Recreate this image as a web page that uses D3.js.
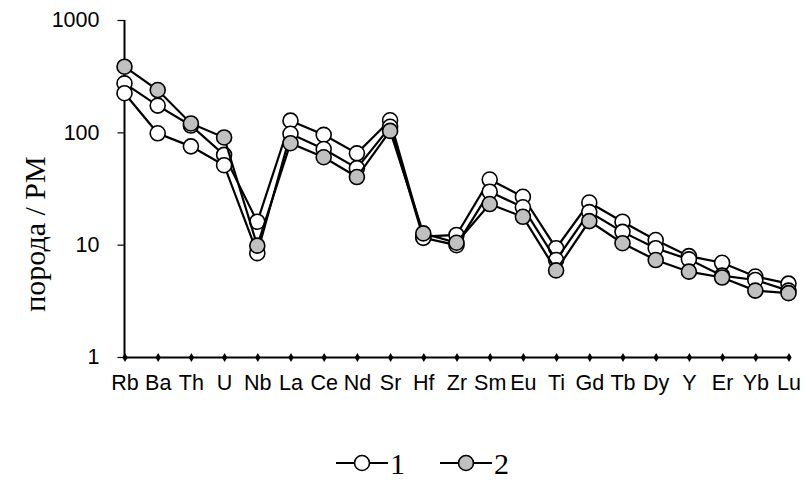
<!DOCTYPE html>
<html>
<head>
<meta charset="utf-8">
<script src="https://cdn.jsdelivr.net/npm/d3@7"></script>
<style>
  html, body { margin: 0; padding: 0; background: #fff; }
  svg { display: block; }
</style>
</head>
<body>
<svg id="chart" width="805" height="480"></svg>
<script>
const categories = ["Rb","Ba","Th","U","Nb","La","Ce","Nd","Sr","Hf","Zr","Sm","Eu","Ti","Gd","Tb","Dy","Y","Er","Yb","Lu"];
const series1a = [273,173,115,63,16,127,95,65,128,11.8,12.2,38,26.7,9.3,23.7,16,11,7.9,6.9,5.2,4.5];
const series1b = [223,98,75,51,8.4,97,71,48,112,11.5,9.9,29.6,21.5,7.3,19.5,13,9.3,7.4,5.3,4.85,3.9];
const series2  = [384,238,120,90,9.8,80,60,40,103,12.6,10.4,23,17.7,5.9,16.2,10.3,7.3,5.75,5.1,3.9,3.7];
const yTicks = [1,10,100,1000];
const yTitle = "порода / PM";
const legendLabels = ["1","2"];

const svg = d3.select("#chart");
const x = d3.scalePoint().domain(categories).range([124.5, 788.5]);
const y = d3.scaleLog().domain([1,1000]).range([357, 20]);

// y axis
const yAxis = d3.axisLeft(y).tickValues(yTicks).tickFormat(d3.format("d")).tickSize(7).tickPadding(18);
const gy = svg.append("g").attr("transform","translate(124.5,0)").call(yAxis);
gy.select(".domain").attr("stroke","#000").attr("stroke-width",2).attr("d","M0,20V357");
gy.selectAll(".tick line").attr("stroke","#000").attr("stroke-width",1.2);
gy.selectAll(".tick text").attr("font-family","Liberation Sans, Arial, sans-serif").attr("font-size",21.5).attr("fill","#000");

// x axis
const xAxis = d3.axisBottom(x).tickSize(0).tickPadding(17);
const gx = svg.append("g").attr("transform","translate(0,357.5)").call(xAxis);
gx.select(".domain").attr("stroke","#000").attr("stroke-width",2).attr("d","M124.5,0H788.5");
gx.selectAll(".tick text").attr("font-family","Liberation Sans, Arial, sans-serif").attr("font-size",21.5).attr("fill","#000");
gx.selectAll(".tick").append("path")
  .attr("d", d3.symbol().type(d3.symbolDiamond).size(24))
  .attr("fill","#000");

// y title
svg.append("text")
  .attr("transform","translate(34,234) rotate(-90)")
  .attr("text-anchor","middle")
  .attr("dominant-baseline","central")
  .attr("font-family","Liberation Serif, Times New Roman, serif")
  .attr("font-size",30)
  .text(yTitle);

const allSeries = [
  {values: series1a, fill: "#fff"},
  {values: series1b, fill: "#fff"},
  {values: series2,  fill: "#c0c0c0"}
];
const line = d3.line().x((d,i)=>x(categories[i])).y(d=>y(d));
allSeries.forEach(s => {
  const g = svg.append("g");
  g.append("path").datum(s.values).attr("d", line)
    .attr("fill","none").attr("stroke","#000").attr("stroke-width",2.2);
  g.selectAll("circle").data(s.values).join("circle")
    .attr("cx",(d,i)=>x(categories[i])).attr("cy",d=>y(d)).attr("r",7.5)
    .attr("fill",s.fill).attr("stroke","#000").attr("stroke-width",1.6);
});

// legend
const legendItems = [
  {label: legendLabels[0], fill: "#fff", x0: 336},
  {label: legendLabels[1], fill: "#c0c0c0", x0: 440}
];
legendItems.forEach(it => {
  const g = svg.append("g").attr("transform",`translate(${it.x0},463)`);
  g.append("line").attr("x1",0).attr("x2",52).attr("y1",0).attr("y2",0).attr("stroke","#000").attr("stroke-width",2);
  g.append("circle").attr("cx",26).attr("cy",0).attr("r",7.5).attr("fill",it.fill).attr("stroke","#000").attr("stroke-width",1.6);
  g.append("text").attr("x",54).attr("y",0).attr("dominant-baseline","central")
    .attr("font-family","Liberation Serif, Times New Roman, serif").attr("font-size",30).text(it.label);
});
</script>
</body>
</html>
